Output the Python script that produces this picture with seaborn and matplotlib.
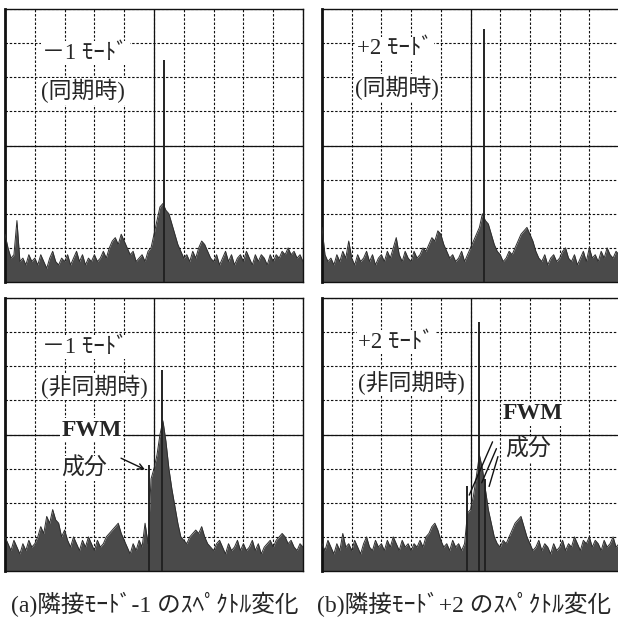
import numpy as np
import matplotlib
matplotlib.use('Agg')
import matplotlib.pyplot as plt
import seaborn as sns

# 周波数軸 (目盛 0..10 div, 0.1 div 間隔) と各パネルの雑音フロア [dB]
freq = np.round(np.arange(0, 10.01, 0.1), 1)

floor_a_sync = [
    -66, -70, -73, -72, -62, -74, -73, -75, -72, -74,
    -73, -75, -72, -74, -76, -73, -71, -74, -75, -73,
    -74, -72, -75, -73, -71, -74, -72, -75, -73, -74,
    -72, -74, -73, -71, -73, -70, -68, -67, -69, -66,
    -68, -70, -72, -71, -74, -73, -72, -74, -71, -70,
    -66, -62, -58, -57, -59, -60, -63, -66, -69, -71,
    -73, -72, -74, -71, -73, -70, -68, -69, -71, -73,
    -74, -72, -75, -73, -71, -74, -72, -75, -73, -72,
    -74, -71, -73, -75, -72, -74, -72, -73, -75, -72,
    -74, -72, -73, -71, -72, -70, -72, -71, -73, -72,
    -74]
floor_b_sync = [
    -64, -72, -74, -73, -75, -72, -74, -71, -73, -68,
    -73, -75, -72, -74, -73, -71, -74, -72, -75, -73,
    -72, -74, -71, -73, -70, -67, -72, -74, -71, -73,
    -74, -71, -73, -72, -70, -71, -69, -67, -68, -65,
    -66, -69, -71, -73, -72, -74, -73, -71, -74, -72,
    -70, -68, -66, -64, -60, -62, -63, -66, -69, -71,
    -72, -74, -73, -71, -72, -70, -68, -66, -65, -64,
    -66, -68, -71, -73, -74, -72, -75, -73, -72, -74,
    -73, -71, -70, -73, -74, -72, -75, -73, -71, -74,
    -70, -73, -72, -74, -71, -73, -70, -72, -73, -71,
    -72]
floor_a_async = [
    -70, -72, -74, -71, -73, -75, -72, -74, -71, -73,
    -72, -70, -67, -69, -64, -66, -62, -65, -66, -70,
    -68, -71, -73, -70, -72, -74, -71, -73, -70, -72,
    -74, -71, -73, -72, -70, -69, -68, -67, -66, -69,
    -71, -73, -75, -72, -74, -71, -73, -66, -72, -53,
    -50, -46, -40, -36, -42, -50, -56, -61, -66, -70,
    -71, -72, -70, -69, -68, -69, -67, -70, -72, -73,
    -74, -72, -71, -73, -75, -72, -74, -73, -71, -74,
    -72, -74, -73, -71, -74, -72, -75, -73, -72, -71,
    -73, -71, -70, -69, -70, -72, -71, -73, -74, -72,
    -73]
floor_b_async = [
    -72, -74, -71, -73, -75, -72, -74, -69, -73, -72,
    -74, -71, -73, -75, -72, -70, -73, -74, -71, -73,
    -72, -74, -71, -73, -70, -72, -74, -71, -73, -72,
    -74, -72, -73, -71, -73, -70, -69, -67, -66, -68,
    -71, -73, -72, -74, -71, -73, -72, -74, -72, -63,
    -62, -58, -52, -46, -50, -56, -62, -66, -70, -72,
    -73, -71, -72, -70, -68, -66, -65, -64, -67, -70,
    -72, -74, -73, -71, -74, -72, -73, -75, -72, -74,
    -73, -71, -74, -72, -73, -70, -72, -74, -71, -72,
    -70, -73, -71, -72, -74, -71, -73, -72, -70, -73,
    -72]

# 輝線スペクトル (位置 div, レベル dB)
lines_a_sync_x, lines_a_sync_db = [5.32], [-15]
lines_b_sync_x, lines_b_sync_db = [5.45], [-6]
lines_a_async_x, lines_a_async_db = [4.84, 5.28], [-49, -21]
lines_b_async_x, lines_b_async_db = [4.88, 5.27, 5.49], [-55, -7, -53]

mode_a = '－1 ﾓｰﾄﾞ'
mode_b = '+2 ﾓｰﾄﾞ'
state_sync = '(同期時)'
state_async = '(非同期時)'
captions = ['(a)隣接ﾓｰﾄﾞ-1 のｽﾍﾟｸﾄﾙ変化', '(b)隣接ﾓｰﾄﾞ+2 のｽﾍﾟｸﾄﾙ変化']

sns.set_style('white')
plt.rcParams['font.family'] = ['Liberation Serif', 'Noto Sans CJK JP', 'DejaVu Sans']

W, H = 618, 622
fig = plt.figure(figsize=(W / 100, H / 100), dpi=100)

YMIN = -78


def panel(rect, floor, lx, ldb):
    ax = fig.add_axes(rect)
    ax.set_xlim(0, 10)
    ax.set_ylim(YMIN, 0)
    ax.set_xticks(np.arange(0, 11))
    ax.set_yticks(np.arange(-80, 1, 10))
    ax.grid(True, color='#111111', lw=0.8, ls=(0, (2.2, 1.6)))
    ax.set_axisbelow(True)
    ax.tick_params(length=0, labelbottom=False, labelleft=False)
    ax.axvline(5, color='#111111', lw=0.9, zorder=1)
    ax.axhline(-40, color='#111111', lw=0.9, zorder=1)
    ax.fill_between(freq, floor, YMIN - 5, color='#4a4a4a', lw=0, zorder=2)
    sns.lineplot(x=freq, y=floor, ax=ax, color='#2e2e2e', lw=0.7, zorder=3)
    ax.vlines(lx, YMIN - 5, ldb, color='#222222', lw=1.4, zorder=3)
    for side, s in ax.spines.items():
        s.set_color('#111111')
        s.set_linewidth(1.0)
    ax.spines['left'].set_linewidth(2.0)
    ax.set_xlabel('')
    ax.set_ylabel('')
    return ax


def lab(ax, x, y, t, size=16.5, weight='normal'):
    ax.text(x, y, t, fontsize=size, fontweight=weight, va='center', ha='left',
            zorder=5, bbox=dict(facecolor='white', edgecolor='none', pad=1.0))


ph = 273 / H
ax1 = panel([5 / W, (H - 282) / H, 298 / W, ph], floor_a_sync, lines_a_sync_x, lines_a_sync_db)
ax2 = panel([322 / W, (H - 282) / H, 297 / W, ph], floor_b_sync, lines_b_sync_x, lines_b_sync_db)
ax3 = panel([5 / W, (H - 571) / H, 298 / W, ph], floor_a_async, lines_a_async_x, lines_a_async_db)
ax4 = panel([322 / W, (H - 571) / H, 297 / W, ph], floor_b_async, lines_b_async_x, lines_b_async_db)

lab(ax1, 1.25, -13.0, mode_a)
lab(ax1, 1.2, -24.1, state_sync)
lab(ax2, 1.18, -11.7, mode_b)
lab(ax2, 1.11, -23.1, state_sync)
lab(ax3, 1.25, -14.4, mode_a)
lab(ax3, 1.2, -26.0, state_async)
lab(ax4, 1.22, -13.0, mode_b)
lab(ax4, 1.22, -24.9, state_async)

# FWM 成分の注記
lab(ax3, 1.9, -38.7, 'FWM', size=17, weight='bold')
lab(ax3, 1.87, -49.9, '成分')
ax3.annotate('', xy=(4.78, -50.6), xytext=(3.81, -46.6),
             arrowprops=dict(arrowstyle='->', color='#111111', lw=1.0), zorder=6)
lab(ax4, 6.08, -33.9, 'FWM', size=17, weight='bold')
lab(ax4, 6.18, -44.4, '成分')
for (x0, y0), (x1, y1) in [((5.78, -41.4), (4.92, -58.5)),
                           ((5.91, -43.4), (5.34, -54.9)),
                           ((5.95, -45.7), (5.6, -56.0))]:
    ax4.annotate('', xy=(x1, y1), xytext=(x0, y0),
                 arrowprops=dict(arrowstyle='-', color='#111111', lw=1.0), zorder=6)

fig.text(154.5 / W, (H - 604) / H, captions[0], fontsize=17, ha='center', va='center')
fig.text(317 / W, (H - 604) / H, captions[1], fontsize=17, ha='left', va='center')

fig.savefig('out.png', dpi=100)
